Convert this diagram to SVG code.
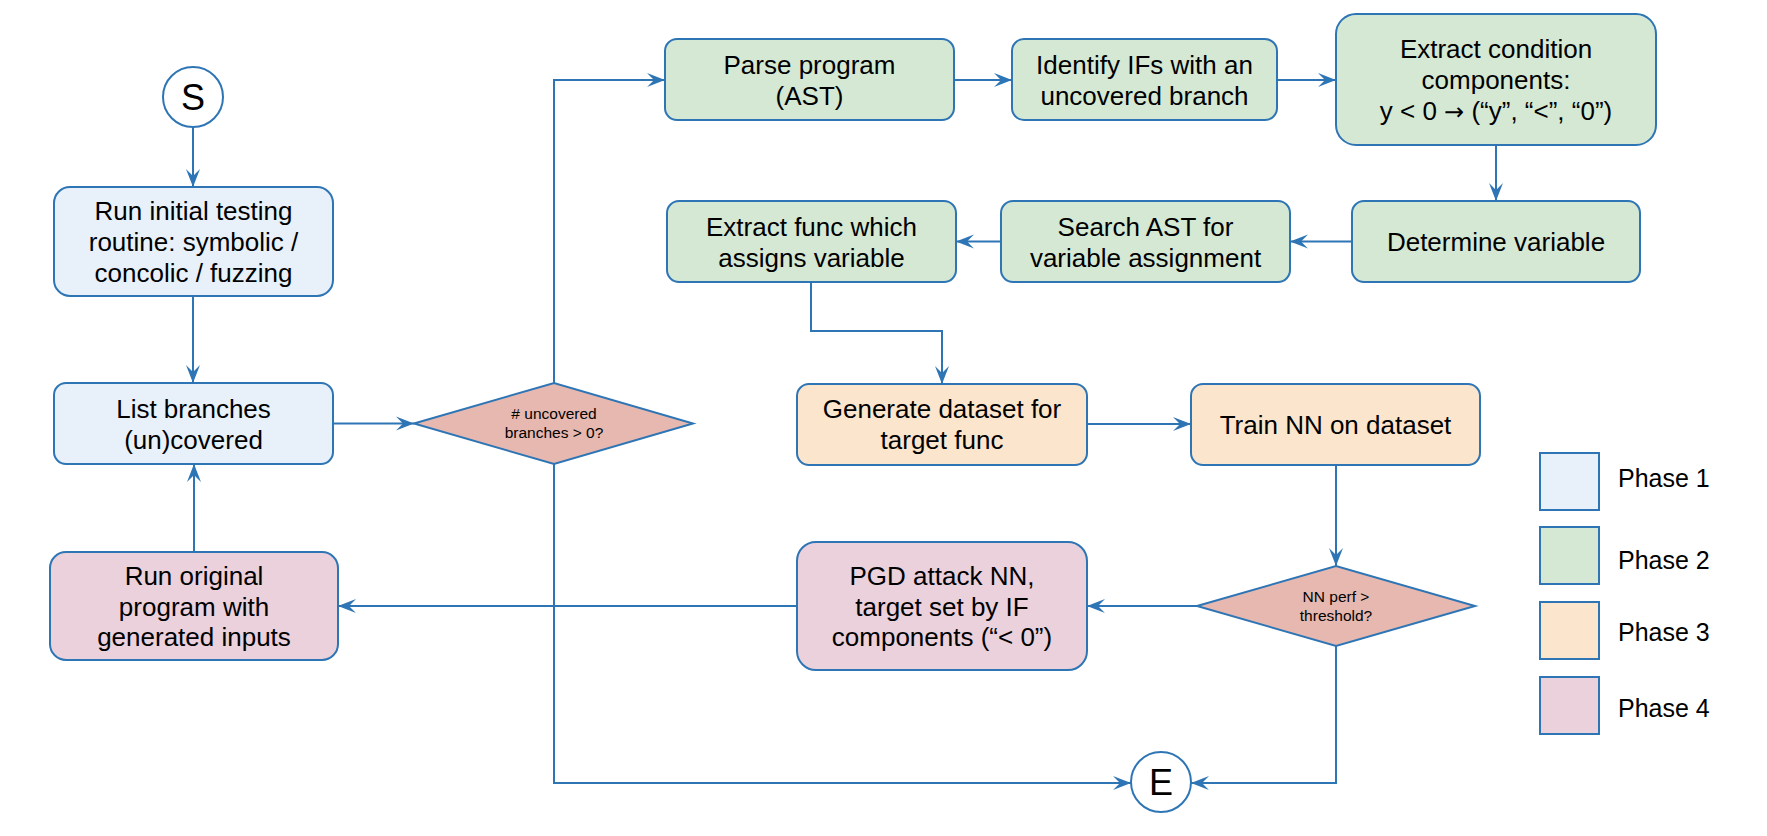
<svg xmlns="http://www.w3.org/2000/svg" width="1767" height="836" viewBox="0 0 1767 836">
<defs>
<style>
.p1{fill:#e8f0fa;stroke:#2e75b5;stroke-width:2}
.p2{fill:#d5e8d4;stroke:#2e75b5;stroke-width:2}
.p3{fill:#fce5cd;stroke:#2e75b5;stroke-width:2}
.p4{fill:#ead1dc;stroke:#2e75b5;stroke-width:2}
.dm{fill:#e6b8af;stroke:#2e75b5;stroke-width:2}
.ci{fill:#ffffff;stroke:#2e75b5;stroke-width:2}
.t{font-family:"Liberation Sans",Arial,sans-serif;font-size:26px;fill:#000;text-anchor:middle}
.ts{font-family:"Liberation Sans",Arial,sans-serif;font-size:15.5px;fill:#000;text-anchor:middle}
.tb{font-family:"Liberation Sans",Arial,sans-serif;font-size:36px;fill:#000;text-anchor:middle}
.tl{font-family:"Liberation Sans",Arial,sans-serif;font-size:25px;fill:#000}
.ar{font-family:"DejaVu Sans",sans-serif;font-size:24px}
.c{fill:none;stroke:#2e75b5;stroke-width:2;marker-end:url(#arr)}
</style>
<marker id="arr" markerUnits="userSpaceOnUse" markerWidth="20" markerHeight="16" viewBox="0 0 20 16" refX="18" refY="8" orient="auto">
<path d="M18,8 L0,1 L7,8 L0,15 Z" fill="#2e75b5"/>
</marker>
</defs>
<rect width="1767" height="836" fill="#ffffff"/>
<g id="connectors">
<path class="c" d="M193,127 V187"/>
<path class="c" d="M193,296 V383"/>
<path class="c" d="M333,423.5 H414"/>
<path class="c" d="M554,383 V80 H665"/>
<path class="c" d="M954,80 H1012"/>
<path class="c" d="M1277,80 H1336"/>
<path class="c" d="M1496,145 V201"/>
<path class="c" d="M1352,241.5 H1290"/>
<path class="c" d="M1001,241.5 H956"/>
<path class="c" d="M811,282 V331 H942 V384"/>
<path class="c" d="M1087,424 H1191"/>
<path class="c" d="M1336,465 V566"/>
<path class="c" d="M1197,606 H1087"/>
<path class="c" d="M797,606 H338"/>
<path class="c" d="M194,552 V464"/>
<path class="c" d="M554,464 V783 H1131"/>
<path class="c" d="M1336,646 V783 H1191"/>
</g>
<g id="start">
<circle class="ci" cx="193" cy="97" r="30"/>
<text class="tb" x="193" y="110">S</text>
</g>
<g id="run_initial">
<rect class="p1" x="54" y="187" width="279" height="109" rx="16"/>
<text class="t" x="193.5" y="220">Run initial testing</text>
<text class="t" x="193.5" y="251">routine: symbolic /</text>
<text class="t" x="193.5" y="281.5">concolic / fuzzing</text>
</g>
<g id="list_branches">
<rect class="p1" x="54" y="383" width="279" height="81" rx="12"/>
<text class="t" x="193.5" y="418">List branches</text>
<text class="t" x="193.5" y="449">(un)covered</text>
</g>
<g id="decision_uncovered">
<polygon class="dm" points="414,423.5 554,383 693,423.5 554,464"/>
<text class="ts" x="554" y="419">#&#160;uncovered</text>
<text class="ts" x="554" y="438">branches &gt; 0?</text>
</g>
<g id="parse_program">
<rect class="p2" x="665" y="39" width="289" height="81" rx="12"/>
<text class="t" x="809.5" y="74">Parse program</text>
<text class="t" x="809.5" y="105">(AST)</text>
</g>
<g id="identify_ifs">
<rect class="p2" x="1012" y="39" width="265" height="81" rx="12"/>
<text class="t" x="1144.5" y="74">Identify IFs with an</text>
<text class="t" x="1144.5" y="105">uncovered branch</text>
</g>
<g id="extract_condition">
<rect class="p2" x="1336" y="14" width="320" height="131" rx="20"/>
<text class="t" x="1496" y="58">Extract condition</text>
<text class="t" x="1496" y="89">components:</text>
<text class="t" x="1496" y="119.5">y &lt; 0 <tspan class="ar">→</tspan> (“y”, “&lt;”, “0”)</text>
</g>
<g id="determine_variable">
<rect class="p2" x="1352" y="201" width="288" height="81" rx="12"/>
<text class="t" x="1496" y="251">Determine variable</text>
</g>
<g id="search_ast">
<rect class="p2" x="1001" y="201" width="289" height="81" rx="12"/>
<text class="t" x="1145.5" y="236">Search AST for</text>
<text class="t" x="1145.5" y="267">variable assignment</text>
</g>
<g id="extract_func">
<rect class="p2" x="667" y="201" width="289" height="81" rx="12"/>
<text class="t" x="811.5" y="236">Extract func which</text>
<text class="t" x="811.5" y="267">assigns variable</text>
</g>
<g id="generate_dataset">
<rect class="p3" x="797" y="384" width="290" height="81" rx="12"/>
<text class="t" x="942" y="418">Generate dataset for</text>
<text class="t" x="942" y="449">target func</text>
</g>
<g id="train_nn">
<rect class="p3" x="1191" y="384" width="289" height="81" rx="12"/>
<text class="t" x="1335.5" y="434">Train NN on dataset</text>
</g>
<g id="decision_perf">
<polygon class="dm" points="1197,606 1336,566 1475,606 1336,646"/>
<text class="ts" x="1336" y="601.5">NN perf &gt;</text>
<text class="ts" x="1336" y="620.5">threshold?</text>
</g>
<g id="pgd_attack">
<rect class="p4" x="797" y="542" width="290" height="128" rx="19"/>
<text class="t" x="942" y="585">PGD attack NN,</text>
<text class="t" x="942" y="615.5">target set by IF</text>
<text class="t" x="942" y="646">components (“&lt; 0”)</text>
</g>
<g id="run_original">
<rect class="p4" x="50" y="552" width="288" height="108" rx="16"/>
<text class="t" x="194" y="585">Run original</text>
<text class="t" x="194" y="615.5">program with</text>
<text class="t" x="194" y="646">generated inputs</text>
</g>
<g id="end">
<circle class="ci" cx="1161" cy="782" r="30"/>
<text class="tb" x="1161" y="795">E</text>
</g>
<g id="legend">
<rect class="p1" x="1540" y="453" width="59" height="57"/>
<text class="tl" x="1618" y="487">Phase 1</text>
<rect class="p2" x="1540" y="527" width="59" height="57"/>
<text class="tl" x="1618" y="569">Phase 2</text>
<rect class="p3" x="1540" y="602" width="59" height="57"/>
<text class="tl" x="1618" y="641">Phase 3</text>
<rect class="p4" x="1540" y="677" width="59" height="57"/>
<text class="tl" x="1618" y="717">Phase 4</text>
</g>
</svg>
